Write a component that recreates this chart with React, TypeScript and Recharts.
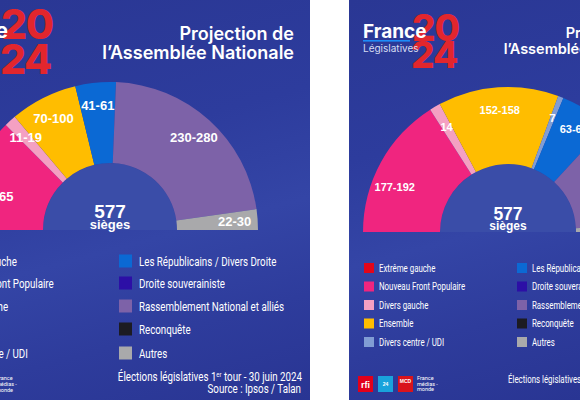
import React from 'react';
import { PieChart, Pie, Cell } from 'recharts';

const partyNames = [
  'Extrême gauche',
  'Nouveau Front Populaire',
  'Divers gauche',
  'Ensemble',
  'Divers centre / UDI',
  'Les Républicains / Divers Droite',
  'Droite souverainiste',
  'Rassemblement National et alliés',
  'Reconquête',
  'Autres',
];
const partyColors = [
  '#e3061a',
  '#f0257f',
  '#f4a0c2',
  '#ffbd00',
  '#819dd4',
  '#0b69d4',
  '#2c0fa6',
  '#7d62a8',
  '#1c1b22',
  '#a9a9ab',
];

// 1er tour (30 juin) : the arc uses the middle of each projected range
const firstRoundSeats = [0, 145, 15, 85, 0, 51, 0, 255, 0, 26];
const firstRoundLabels = ['', '125-165', '11-19', '70-100', '', '41-61', '', '230-280', '', '22-30'];

// 2nd tour
const secondRoundSeats = [0, 184.5, 14, 155, 7, 65, 0, 141.5, 0, 10];
const secondRoundLabels = ['', '177-192', '14', '152-158', '7', '63-67', '', '138-145', '', ''];

const totalSeats = 577;

const RADIAN = Math.PI / 180;
const PANEL_BG =
  'linear-gradient(165deg, #2a3794 0%, #2d3c9d 35%, #3445a6 58%, #2e3c9c 78%, #293593 100%)';
const HOLE = '#3a4da8';
const BOLD = "'Liberation Sans', Arial, sans-serif";

// the NFP range label sits a bit lower than the middle of its slice
const labelAngleShift: Record<string, number> = { 'Nouveau Front Populaire': 7 };

interface HemicycleProps {
  seats: number[];
  labels: string[];
  width: number;
  cx: number;
  cy: number;
  inner: number;
  outer: number;
  labelRadius: number;
  labelSize: number;
}

function Hemicycle({ seats, labels, width, cx, cy, inner, outer, labelRadius, labelSize }: HemicycleProps) {
  const data = partyNames.map((name, i) => ({ name, seats: seats[i], label: labels[i] }));

  const renderLabel = (props: any) => {
    const text = labels[props.index];
    if (!text) return null;
    const angle = (props.midAngle + (labelAngleShift[partyNames[props.index]] ?? 0)) * -RADIAN;
    return (
      <text
        key={`lbl-${props.index}`}
        x={cx + labelRadius * Math.cos(angle)}
        y={cy + labelRadius * Math.sin(angle)}
        fill="#fff"
        textAnchor="middle"
        dominantBaseline="central"
        fontFamily={BOLD}
        fontWeight={700}
        fontSize={labelSize}
      >
        {text}
      </text>
    );
  };

  return (
    <PieChart
      width={width}
      height={400}
      margin={{ top: 0, right: 0, bottom: 0, left: 0 }}
      style={{ position: 'absolute', left: 0, top: 0 }}
    >
      <Pie
        data={[{ v: 1 }]}
        dataKey="v"
        cx={cx}
        cy={cy}
        innerRadius={0}
        outerRadius={inner}
        startAngle={180}
        endAngle={0}
        fill={HOLE}
        stroke="none"
        isAnimationActive={false}
      />
      <Pie
        data={data}
        dataKey="seats"
        nameKey="name"
        cx={cx}
        cy={cy}
        innerRadius={inner}
        outerRadius={outer}
        startAngle={180}
        endAngle={0}
        stroke="none"
        label={renderLabel}
        labelLine={false}
        isAnimationActive={false}
      >
        {data.map((d, i) => (
          <Cell key={d.name} fill={partyColors[i]} />
        ))}
      </Pie>
    </PieChart>
  );
}

function Narrow({ x, y, size, anchor = 'start', scale = 0.75, children }: any) {
  return (
    <text
      transform={`translate(${x} ${y}) scale(${scale} 1)`}
      fontFamily="Roboto, sans-serif"
      fontSize={size}
      textAnchor={anchor}
      fill="#fff"
    >
      {children}
    </text>
  );
}

function LegendColumns({ cols, rows, box, gap, size }: { cols: number[]; rows: number[]; box: number; gap: number; size: number }) {
  return (
    <g>
      {partyNames.map((name, i) => {
        const x = cols[Math.floor(i / 5)];
        const y = rows[i % 5];
        return (
          <g key={name}>
            <rect x={x} y={y - box / 2} width={box} height={box} fill={partyColors[i]} />
            <Narrow x={x + gap} y={y + size * 0.36} size={size}>
              {name}
            </Narrow>
          </g>
        );
      })}
    </g>
  );
}

function Panel({ left, width, children }: { left: number; width: number; children: React.ReactNode }) {
  return (
    <div
      style={{
        position: 'absolute',
        left,
        top: 0,
        width,
        height: 400,
        overflow: 'hidden',
        background: PANEL_BG,
      }}
    >
      {children}
    </div>
  );
}

const overlayStyle: React.CSSProperties = { position: 'absolute', left: 0, top: 0, overflow: 'hidden' };

function FirstRoundPanel() {
  const w = 310;
  return (
    <Panel left={0} width={w}>
      <Hemicycle
        seats={firstRoundSeats}
        labels={firstRoundLabels}
        width={w}
        cx={110}
        cy={230}
        inner={67}
        outer={148}
        labelRadius={125}
        labelSize={13}
      />
      <svg width={w} height={400} style={overlayStyle}>
        {/* logo, the white word sits on top of the red year */}
        <text x={1} y={39} fontFamily="Inter, sans-serif" fontWeight={800} fontSize={41} letterSpacing={-1.5} fill="#e2262d">
          20
        </text>
        <text x={0} y={74} fontFamily="Inter, sans-serif" fontWeight={800} fontSize={41} letterSpacing={-1.5} fill="#e2262d">
          24
        </text>
        <text x={8} y={38} textAnchor="end" fontFamily="Inter, sans-serif" fontWeight={700} fontSize={21} fill="#fff">
          France
        </text>

        {/* title */}
        <text x={294} y={40} textAnchor="end" fontFamily="Inter, sans-serif" fontWeight={600} fontSize={18} fill="#fff">
          Projection de
        </text>
        <text x={294} y={59} textAnchor="end" fontFamily="Inter, sans-serif" fontWeight={600} fontSize={18} fill="#fff">
          l’Assemblée Nationale
        </text>

        {/* seats in the middle */}
        <text x={110} y={218} textAnchor="middle" fontFamily={BOLD} fontWeight={700} fontSize={19} fill="#fff">
          {totalSeats}
        </text>
        <text x={110} y={229} textAnchor="middle" fontFamily={BOLD} fontWeight={700} fontSize={13} fill="#fff">
          sièges
        </text>

        <LegendColumns cols={[-73, 119]} rows={[261, 283, 306, 329, 353]} box={13} gap={20} size={13} />

        {/* footer */}
        <Narrow x={302} y={381} size={13} anchor="end">
          Élections législatives 1
          <tspan fontSize={8} dy={-4}>er</tspan>
          <tspan dy={4}> tour - 30 juin 2024</tspan>
        </Narrow>
        <Narrow x={301} y={393} size={13} anchor="end">
          Source : Ipsos / Talan
        </Narrow>
        <text fontFamily="Roboto, sans-serif" fontSize={5.5} fill="#fff">
          <tspan x={-4} y={380}>France</tspan>
          <tspan x={-4} y={386}>médias -</tspan>
          <tspan x={-4} y={392}>monde</tspan>
        </text>
      </svg>
    </Panel>
  );
}

function SecondRoundPanel() {
  const w = 231;
  return (
    <Panel left={349} width={w}>
      <Hemicycle
        seats={secondRoundSeats}
        labels={secondRoundLabels}
        width={w}
        cx={159}
        cy={232}
        inner={68}
        outer={145}
        labelRadius={122}
        labelSize={11}
      />
      <svg width={w} height={400} style={overlayStyle}>
        {/* logo */}
        <text x={63} y={41} fontFamily="Inter, sans-serif" fontWeight={800} fontSize={37} letterSpacing={-1} fill="#e2262d">
          20
        </text>
        <text x={62} y={67.5} fontFamily="Inter, sans-serif" fontWeight={800} fontSize={37} letterSpacing={-1} fill="#e2262d">
          24
        </text>
        <text x={14} y={38} fontFamily="Inter, sans-serif" fontWeight={700} fontSize={19} fill="#fff">
          France
        </text>
        <rect x={14} y={40} width={47} height={1.6} fill="#1d8cf8" />
        <text x={14} y={51.5} fontFamily="Inter, sans-serif" fontSize={10} fill="#d5dcf2">
          Législatives
        </text>

        {/* title */}
        <text x={309} y={38} textAnchor="end" fontFamily="Inter, sans-serif" fontWeight={600} fontSize={14.5} fill="#fff">
          Projection de
        </text>
        <text x={309} y={54} textAnchor="end" fontFamily="Inter, sans-serif" fontWeight={600} fontSize={14.5} fill="#fff">
          l’Assemblée Nationale
        </text>

        <text x={159} y={220} textAnchor="middle" fontFamily={BOLD} fontWeight={700} fontSize={17.5} fill="#fff">
          {totalSeats}
        </text>
        <text x={159} y={230} textAnchor="middle" fontFamily={BOLD} fontWeight={700} fontSize={12} fill="#fff">
          sièges
        </text>

        <LegendColumns cols={[15, 168]} rows={[268, 286.5, 305, 323.5, 342]} box={10} gap={15} size={10.5} />

        {/* footer */}
        <Narrow x={159} y={383} size={10.5}>
          Élections législatives 2
          <tspan fontSize={6.5} dy={-3}>d</tspan>
          <tspan dy={3}> tour</tspan>
        </Narrow>
        <rect x={9} y={376} width={15} height={16} fill="#e2001a" />
        <text x={16.5} y={388} textAnchor="middle" fontFamily={BOLD} fontWeight={700} fontSize={9} fill="#fff">
          rfi
        </text>
        <rect x={29} y={376} width={15} height={16} fill="#19a3dc" />
        <text x={36.5} y={386} textAnchor="middle" fontFamily={BOLD} fontWeight={700} fontSize={5} fill="#fff">
          24
        </text>
        <rect x={49} y={376} width={15} height={16} fill="#d9141c" />
        <text x={56.5} y={383} textAnchor="middle" fontFamily={BOLD} fontWeight={700} fontSize={5} fill="#fff">
          MCD
        </text>
        <text fontFamily="Roboto, sans-serif" fontSize={5.5} fill="#fff">
          <tspan x={68} y={380}>France</tspan>
          <tspan x={68} y={385.5}>médias -</tspan>
          <tspan x={68} y={391}>monde</tspan>
        </text>
      </svg>
    </Panel>
  );
}

export default function App() {
  return (
    <div
      style={{
        position: 'absolute',
        left: 0,
        top: 0,
        width: 580,
        height: 400,
        background: '#fff',
        overflow: 'hidden',
      }}
    >
      <FirstRoundPanel />
      <SecondRoundPanel />
    </div>
  );
}
